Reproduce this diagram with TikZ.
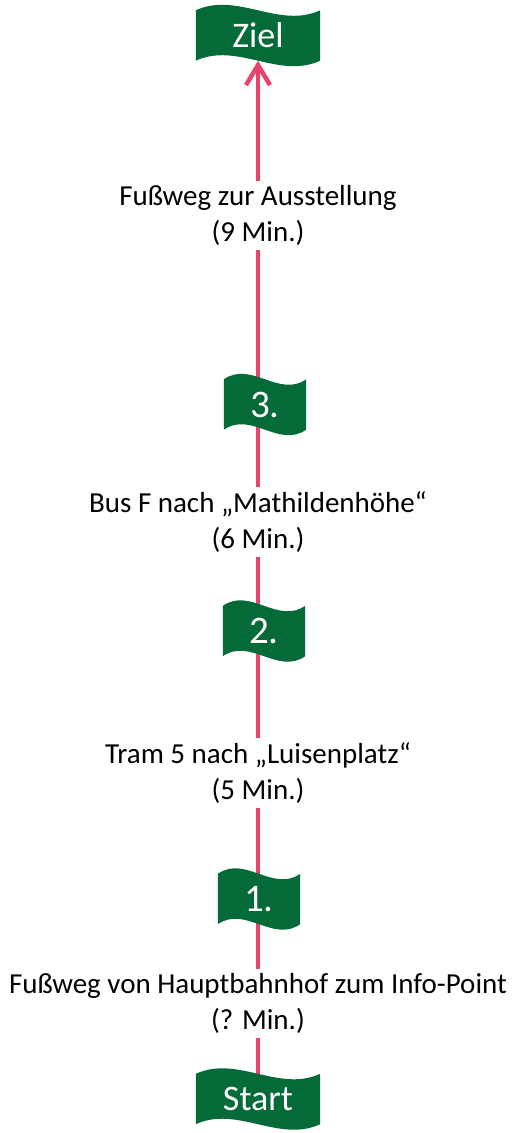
\documentclass[tikz,border=0pt]{standalone}
\usepackage{fontspec}
\setmainfont{Carlito}
\usetikzlibrary{arrows.meta,calc,backgrounds}
\pgfdeclarelayer{flagbg}
\pgfsetlayers{background,flagbg,main}
\definecolor{flaggreen}{HTML}{046A38}
\definecolor{routepink}{HTML}{E8436A}
\tikzset{
  flagnode/.style={inner sep=0pt, text=white},
  numflag/.style={flagnode, minimum width=82pt, minimum height=50pt, font=\fontsize{39}{44}\selectfont},
  bigflag/.style={flagnode, minimum width=124pt, minimum height=50pt, font=\fontsize{36}{40}\selectfont},
  legtext/.style={align=center, fill=white, inner sep=4pt, anchor=base, font=\fontsize{29}{36.5}\selectfont},
  route/.style={draw=routepink, line width=4.5pt},
}
\newcommand\waveflag[1]{%
  \begin{pgfonlayer}{flagbg}
  \fill[flaggreen] (#1.north west)
    .. controls ($(#1.north west)!1/3!(#1.north east)+(0,19pt)$) and ($(#1.north west)!2/3!(#1.north east)+(0,-19pt)$) .. (#1.north east)
    -- (#1.south east)
    .. controls ($(#1.south west)!2/3!(#1.south east)+(0,-19pt)$) and ($(#1.south west)!1/3!(#1.south east)+(0,19pt)$) .. (#1.south west)
    -- cycle;
  \end{pgfonlayer}}
\begin{document}
\begin{tikzpicture}[x=1pt,y=-1pt]
\useasboundingbox (0,0) rectangle (519,1133);
% flags
\node[bigflag] (ziel) at (258,35.5) {Ziel};
\node[numflag] (f3) at (265,404.5) {3.};
\node[numflag] (f2) at (264,631) {2.};
\node[numflag] (f1) at (259,899) {1.};
\node[bigflag] (start) at (258,1099) {Start};
\waveflag{ziel}
\waveflag{f3}
\waveflag{f2}
\waveflag{f1}
\waveflag{start}
% leg labels (anchor = baseline of last line)
\node[legtext] (leg4) at (258,241.5) {Fußweg zur Ausstellung\\(9 Min.)};
\node[legtext] (leg3) at (258,548.5) {Bus F nach „Mathildenhöhe“\\(6 Min.)};
\node[legtext] (leg2) at (258,799.5) {Tram 5 nach „Luisenplatz“\\(5 Min.)};
\node[legtext] (leg1) at (258,1029.5) {Fußweg von Hauptbahnhof zum Info-Point\\(? Min.)};
% route
\begin{pgfonlayer}{background}
\draw[route, -{Straight Barb[length=20pt,width=24pt]}] (start.north) -- (ziel.south);
\end{pgfonlayer}
\end{tikzpicture}
\end{document}
